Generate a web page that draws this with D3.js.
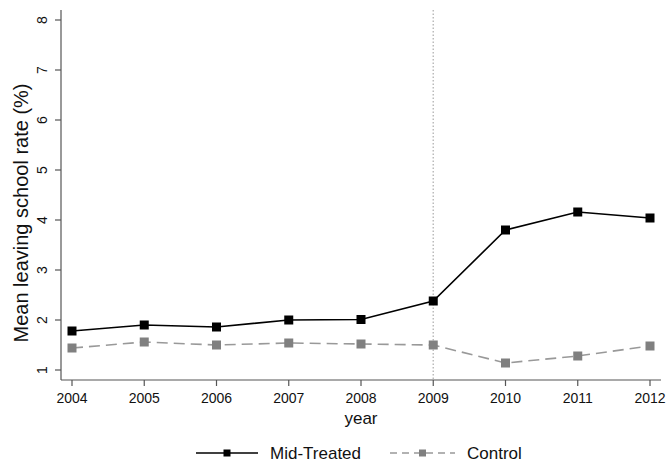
<!DOCTYPE html>
<html><head><meta charset="utf-8">
<script src="https://cdn.jsdelivr.net/npm/d3@7"></script>
<style>body{margin:0;background:#fff}svg{display:block;font-family:"Liberation Sans",Arial,sans-serif}</style>
</head><body><svg id="c" width="668" height="463"></svg>
<script>
const years = [2004,2005,2006,2007,2008,2009,2010,2011,2012];
const midTreated = [1.78,1.90,1.86,2.00,2.01,2.38,3.80,4.16,4.04];
const control = [1.44,1.56,1.50,1.54,1.52,1.50,1.14,1.28,1.48];
const yTicks = [1,2,3,4,5,6,7,8];
const seriesNames = ["Mid-Treated","Control"];

const svg = d3.select("#c");
const x = d3.scaleLinear().domain([2004,2012]).range([72,650]);
const y = d3.scaleLinear().domain([1,8]).range([370,20]);
const axisCol = "#555";

svg.append("line").attr("x1",x(2009)).attr("x2",x(2009)).attr("y1",10).attr("y2",380)
  .attr("stroke","#bbb").attr("stroke-width",1.5).attr("stroke-dasharray","1.5,2");

svg.append("line").attr("x1",61).attr("x2",61).attr("y1",10).attr("y2",380).attr("stroke",axisCol).attr("stroke-width",1.2);
svg.append("line").attr("x1",61).attr("x2",661).attr("y1",380).attr("y2",380).attr("stroke",axisCol).attr("stroke-width",1.2);

yTicks.forEach(t=>{
  svg.append("line").attr("x1",55).attr("x2",61).attr("y1",y(t)).attr("y2",y(t)).attr("stroke",axisCol).attr("stroke-width",1.2);
  svg.append("text").attr("transform",`translate(47,${y(t)}) rotate(-90)`).attr("text-anchor","middle")
    .attr("font-size",14).attr("fill","#111").text(t);
});
years.forEach(t=>{
  svg.append("line").attr("x1",x(t)).attr("x2",x(t)).attr("y1",380).attr("y2",386).attr("stroke",axisCol).attr("stroke-width",1.2);
  svg.append("text").attr("x",x(t)).attr("y",403).attr("text-anchor","middle").attr("font-size",14).attr("fill","#111").text(t);
});
svg.append("text").attr("transform",`translate(28,213) rotate(-90)`).attr("text-anchor","middle").attr("font-size",20).attr("fill","#111").text("Mean leaving school rate (%)");
svg.append("text").attr("x",361).attr("y",424).attr("text-anchor","middle").attr("font-size",17).attr("fill","#111").text("year");

const line = d3.line().x((d,i)=>x(years[i])).y(d=>y(d));
function series(vals,col,lineCol,dash){
  svg.append("path").attr("d",line(vals)).attr("fill","none").attr("stroke",lineCol).attr("stroke-width",1.6).attr("stroke-dasharray",dash);
  svg.selectAll(null).data(vals).enter().append("rect")
    .attr("x",(d,i)=>x(years[i])-4.5).attr("y",d=>y(d)-4.5).attr("width",9).attr("height",9).attr("fill",col);
}
series(control,"#808080","#999","11,6");
series(midTreated,"#000","#000",null);

function leg(x0,x1,col,lineCol,dash,name){
  svg.append("line").attr("x1",x0).attr("x2",x1).attr("y1",453).attr("y2",453).attr("stroke",lineCol).attr("stroke-width",1.6).attr("stroke-dasharray",dash);
  svg.append("rect").attr("x",(x0+x1)/2-3.5).attr("y",449.5).attr("width",7).attr("height",7).attr("fill",col);
  svg.append("text").attr("x",x1+12).attr("y",459).attr("font-size",17).attr("fill","#111").text(name);
}
leg(196,258,"#000","#000",null,seriesNames[0]);
leg(390,455,"#808080","#999","7,5",seriesNames[1]);
</script></body></html>
